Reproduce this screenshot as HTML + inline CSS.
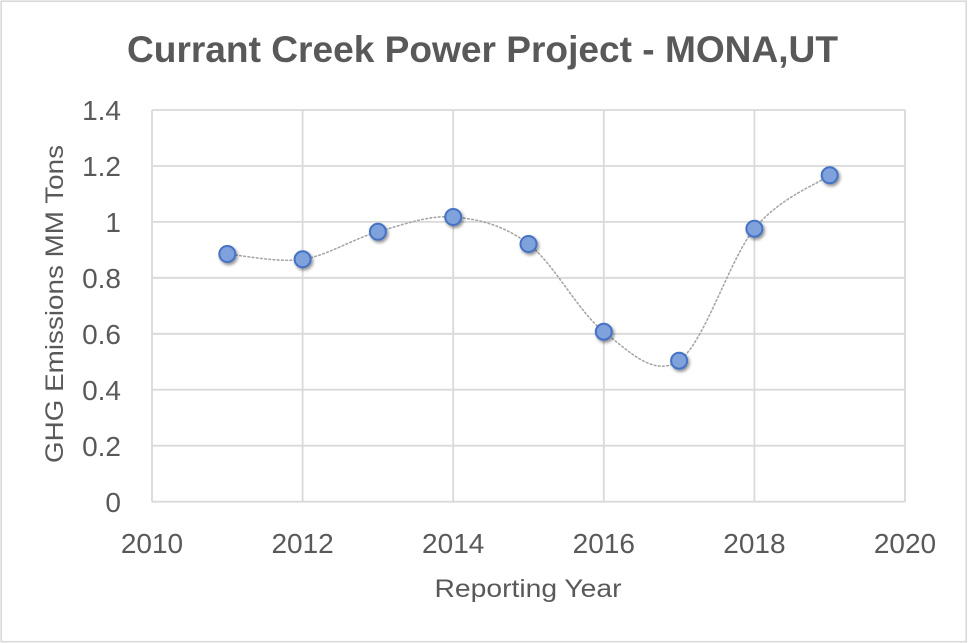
<!DOCTYPE html>
<html>
<head>
<meta charset="utf-8">
<style>
  html, body { margin: 0; padding: 0; background: #ffffff; }
  svg { display: block; }
  text { font-family: "Liberation Sans", sans-serif; fill: #595959; }
</style>
</head>
<body>
<svg width="968" height="643" viewBox="0 0 968 643" xmlns="http://www.w3.org/2000/svg">
  <defs>
    <filter id="sh" x="-50%" y="-50%" width="200%" height="200%">
      <feGaussianBlur in="SourceAlpha" stdDeviation="1.6"/>
      <feOffset dx="1.5" dy="2.2" result="ob"/>
      <feComponentTransfer><feFuncA type="linear" slope="0.45"/></feComponentTransfer>
      <feMerge><feMergeNode/><feMergeNode in="SourceGraphic"/></feMerge>
    </filter>
  </defs>
  <rect x="0" y="0" width="968" height="643" fill="#ffffff"/>
  <rect x="1.2" y="1.2" width="965" height="640.5" fill="none" stroke="#d9d9d9" stroke-width="1.6"/>

  <!-- Title -->
  <text x="482.5" y="62" text-anchor="middle" font-size="37" font-weight="bold" textLength="711" lengthAdjust="spacingAndGlyphs">Currant Creek Power Project - MONA,UT</text>

  <!-- Gridlines -->
  <g stroke="#d9d9d9" stroke-width="1.8" fill="none">
    <line x1="152" y1="110" x2="905" y2="110"/>
    <line x1="152" y1="166" x2="905" y2="166"/>
    <line x1="152" y1="221.9" x2="905" y2="221.9"/>
    <line x1="152" y1="277.8" x2="905" y2="277.8"/>
    <line x1="152" y1="333.8" x2="905" y2="333.8"/>
    <line x1="152" y1="389.7" x2="905" y2="389.7"/>
    <line x1="152" y1="445.7" x2="905" y2="445.7"/>
    <line x1="152" y1="501.7" x2="905" y2="501.7"/>
    <line x1="152" y1="110" x2="152" y2="501.7"/>
    <line x1="302.6" y1="110" x2="302.6" y2="501.7"/>
    <line x1="453.2" y1="110" x2="453.2" y2="501.7"/>
    <line x1="603.8" y1="110" x2="603.8" y2="501.7"/>
    <line x1="754.4" y1="110" x2="754.4" y2="501.7"/>
    <line x1="905" y1="110" x2="905" y2="501.7"/>
  </g>

  <!-- Y tick labels -->
  <g font-size="28" text-anchor="end">
    <text x="121" y="120">1.4</text>
    <text x="121" y="176">1.2</text>
    <text x="121" y="232">1</text>
    <text x="121" y="288">0.8</text>
    <text x="121" y="344">0.6</text>
    <text x="121" y="400">0.4</text>
    <text x="121" y="456">0.2</text>
    <text x="121" y="512">0</text>
  </g>

  <!-- X tick labels -->
  <g font-size="28" text-anchor="middle">
    <text x="152" y="553">2010</text>
    <text x="302.6" y="553">2012</text>
    <text x="453.2" y="553">2014</text>
    <text x="603.8" y="553">2016</text>
    <text x="754.4" y="553">2018</text>
    <text x="905" y="553">2020</text>
  </g>

  <!-- Axis titles -->
  <text x="528" y="597" text-anchor="middle" font-size="25" textLength="187" lengthAdjust="spacingAndGlyphs">Reporting Year</text>
  <text transform="translate(63,304) rotate(-90)" x="0" y="0" text-anchor="middle" font-size="25" textLength="318" lengthAdjust="spacingAndGlyphs">GHG Emissions MM Tons</text>

  <!-- Smoothed dotted line -->
  <path d="M227.3,254 C239.85,254.88 277.5,263 302.6,259.3 C327.7,255.6 352.8,238.85 377.9,231.8 C403,224.75 428.1,214.97 453.2,217 C478.3,219.03 503.4,224.88 528.5,244 C553.6,263.12 578.7,312.25 603.8,331.7 C628.9,351.15 654,377.87 679.1,360.7 C704.2,343.53 729.3,259.6 754.4,228.7 C779.5,197.8 817.15,184.2 829.7,175.3"
        fill="none" stroke="#a6a6a6" stroke-width="1.6" stroke-dasharray="1.6 2.6" stroke-linecap="round"/>

  <!-- Markers -->
  <g fill="#7fa1dc" stroke="#4472c4" stroke-width="2" filter="url(#sh)">
    <circle cx="227.3" cy="254" r="8"/>
    <circle cx="302.6" cy="259.3" r="8"/>
    <circle cx="377.9" cy="231.8" r="8"/>
    <circle cx="453.2" cy="217" r="8"/>
    <circle cx="528.5" cy="244" r="8"/>
    <circle cx="603.8" cy="331.7" r="8"/>
    <circle cx="679.1" cy="360.7" r="8"/>
    <circle cx="754.4" cy="228.7" r="8"/>
    <circle cx="829.7" cy="175.3" r="8"/>
  </g>
</svg>
</body>
</html>
